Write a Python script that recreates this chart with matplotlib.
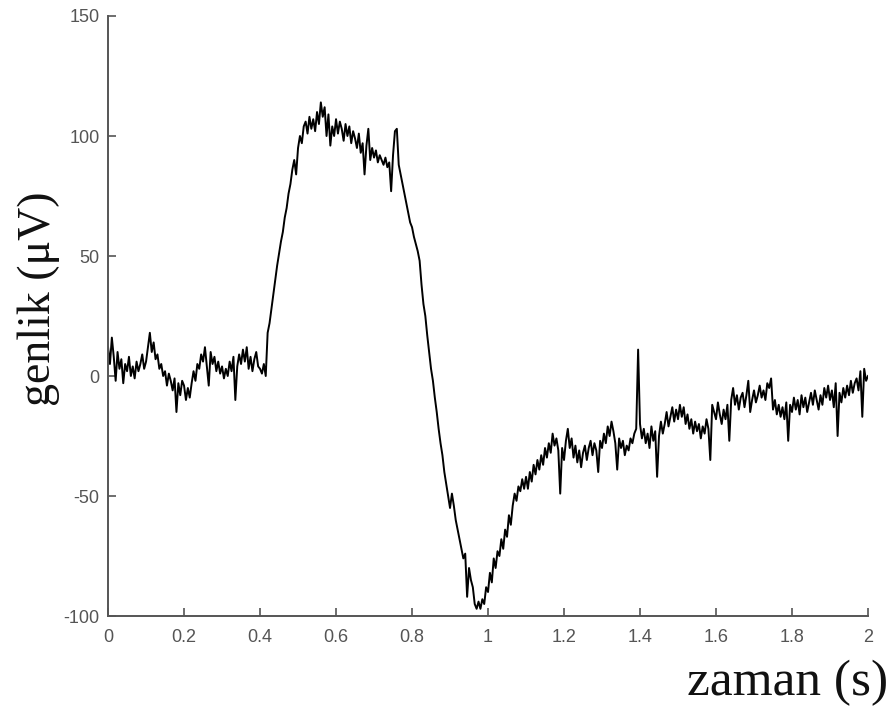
import numpy as np
import matplotlib.pyplot as plt

plt.rcParams['axes.unicode_minus'] = False

# amplitude (uV), one value every 5 ms from 0 to 2 s
genlik = [
    12, 5, 16, 8, -2, 10, 3, 7, -3, 5, 2, 8, 0, 4, -1, 6, 2, 5, 9, 3,
    6, 12, 18, 10, 14, 7, 9, 3, 5, 0, 2, -4, 1, -2, -6, -1, -15, -3, -8, -2,
    -4, -10, -5, -9, -3, 2, -2, 5, 3, 9, 6, 12, 4, -4, 10, 5, 8, 2, 6, 1,
    4, -1, 3, 0, 6, 2, 8, -10, 4, 9, 5, 11, 6, 12, 3, 8, 2, 7, 10, 4,
    3, 1, 5, 0, 18, 22, 28, 34, 40, 46, 51, 56, 60, 66, 70, 76, 80, 86, 90, 84,
    95, 100, 97, 104, 106, 101, 108, 103, 107, 102, 110, 105, 114, 108, 112, 100, 109, 96, 104, 100,
    107, 101, 106, 103, 98, 105, 100, 104, 97, 102, 99, 95, 101, 93, 97, 84, 96, 103, 90, 95,
    91, 94, 89, 92, 90, 88, 91, 87, 89, 77, 92, 102, 103, 88, 84, 80, 76, 72, 68, 64,
    62, 58, 55, 52, 48, 38, 30, 25, 17, 10, 3, -2, -9, -15, -22, -28, -33, -40, -45, -50,
    -55, -49, -54, -60, -64, -68, -72, -76, -74, -92, -80, -85, -88, -95, -97, -94, -97, -93, -95, -88,
    -90, -82, -86, -76, -80, -73, -75, -68, -72, -64, -67, -58, -62, -54, -49, -52, -46, -48, -43, -47,
    -42, -47, -40, -44, -37, -41, -35, -39, -33, -37, -30, -34, -28, -32, -24, -29, -26, -31, -49, -30,
    -35, -27, -22, -30, -26, -34, -29, -36, -31, -38, -32, -29, -35, -30, -27, -33, -28, -31, -40, -27,
    -30, -24, -28, -21, -25, -19, -23, -28, -39, -26, -30, -27, -33, -29, -31, -26, -28, -24, -22, 11,
    -20, -26, -22, -28, -24, -30, -21, -27, -23, -42, -25, -19, -24, -20, -15, -21, -17, -13, -19, -14,
    -18, -12, -17, -13, -20, -16, -22, -18, -24, -19, -23, -20, -26, -21, -24, -18, -22, -35, -12, -15,
    -18, -11, -16, -20, -14, -18, -12, -27, -10, -5, -12, -8, -14, -9, -7, -13, -8, -2, -15, -10,
    -6, -11, -8, -4, -9, -6, -10, -3, -5, -1, -14, -10, -16, -12, -17, -13, -18, -11, -27, -12,
    -15, -9, -14, -10, -16, -8, -13, -9, -15, -11, -7, -12, -6, -10, -14, -8, -12, -5, -9, -4,
    -10, -6, -13, -3, -25, -7, -11, -5, -9, -4, -8, -2, -7, -3, -1, -6, 2, -17, 3, -2,
    0,
]
zaman = np.linspace(0, 2, len(genlik))

xticks = [0, 0.2, 0.4, 0.6, 0.8, 1, 1.2, 1.4, 1.6, 1.8, 2]
xticklabels = ['0', '0.2', '0.4', '0.6', '0.8', '1', '1.2', '1.4', '1.6', '1.8', '2']
yticks = [-100, -50, 0, 50, 100, 150]

fig = plt.figure(figsize=(8.93, 7.11), dpi=100)
ax = fig.add_axes([0.121, 0.1336, 0.851, 0.8439])

ax.plot(zaman, genlik, color='black', linewidth=1.4)

ax.set_xlim(0, 2)
ax.set_ylim(-100, 150)
ax.set_xticks(xticks)
ax.set_xticklabels(xticklabels)
ax.set_yticks(yticks)

for s in ['top', 'right']:
    ax.spines[s].set_visible(False)
for s in ['left', 'bottom']:
    ax.spines[s].set_color('#555555')
    ax.spines[s].set_linewidth(1.4)

ax.tick_params(direction='in', length=6, width=1.2, color='#555555',
               labelcolor='#555555', labelsize=13, pad=4)
ax.tick_params(axis='x', pad=9)
ax.tick_params(axis='y', pad=6)
for lab in ax.get_xticklabels() + ax.get_yticklabels():
    lab.set_family('Liberation Sans')

fig.text(0.994, 0.022, 'zaman (s)', ha='right', va='baseline',
         family='Liberation Serif', fontsize=37, color='#111111')
fig.text(0.043, 0.58, 'genlik (μV)', ha='center', va='center', rotation=90,
         family='Liberation Serif', fontsize=33, color='#111111')

fig.savefig('out.png', dpi=100)
